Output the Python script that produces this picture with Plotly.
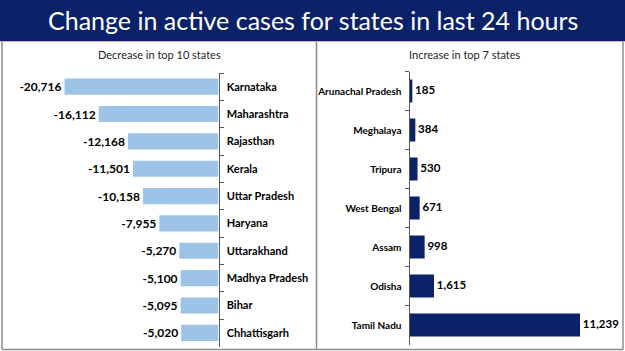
import plotly.graph_objects as go

W, H = 625, 351

title = "Change in active cases for states in last 24 hours"
left_title = "Decrease in top 10 states"
right_title = "Increase in top 7 states"

dec_states = ["Karnataka", "Maharashtra", "Rajasthan", "Kerala", "Uttar Pradesh",
              "Haryana", "Uttarakhand", "Madhya Pradesh", "Bihar", "Chhattisgarh"]
dec_values = [-20716, -16112, -12168, -11501, -10158, -7955, -5270, -5100, -5095, -5020]

inc_states = ["Arunachal Pradesh", "Meghalaya", "Tripura", "West Bengal", "Assam",
              "Odisha", "Tamil Nadu"]
inc_values = [185, 384, 530, 671, 998, 1615, 11239]

NAVY = "#0b2268"
LIGHT = "#9dc3e6"
FONT = "Lato"


def px_x(p):
    return p / W


def px_y(p):
    return 1 - p / H


fig = go.Figure()

fig.add_trace(go.Bar(
    y=dec_states, x=dec_values, orientation="h",
    marker=dict(color=LIGHT, line=dict(width=0)),
    text=[f"{v:,}" for v in dec_values], textposition="outside",
    textfont=dict(family=FONT, size=12, color="#000000", weight="bold"),
    constraintext="none", cliponaxis=False,
    xaxis="x", yaxis="y", showlegend=False, hoverinfo="skip",
))

fig.add_trace(go.Bar(
    y=inc_states, x=inc_values, orientation="h",
    marker=dict(color=NAVY, line=dict(width=0)),
    xaxis="x2", yaxis="y2", showlegend=False, hoverinfo="skip",
))

fig.add_trace(go.Scatter(
    y=inc_states, x=inc_values, mode="text",
    text=["\u00a0" + f"{v:,}" for v in inc_values], textposition="middle right",
    textfont=dict(family=FONT, size=11.5, color="#000000", weight="bold"),
    cliponaxis=False,
    xaxis="x2", yaxis="y2", showlegend=False, hoverinfo="skip",
))

# left panel: 0 at px 218, 0.00743 px per unit
l_left, l_right = 5, 218.5
l_scale = 154.0 / 20716
fig.update_layout(
    xaxis=dict(domain=[px_x(l_left), px_x(l_right)],
               range=[-(l_right - l_left) / l_scale, 0],
               visible=False, fixedrange=True),
    yaxis=dict(domain=[px_y(346.5), px_y(73)], anchor="x", side="right",
               type="category", categoryorder="array", categoryarray=dec_states,
               autorange="reversed", showline=True, linecolor="#595959", linewidth=1,
               ticks="outside", ticklen=4, tickcolor="#595959", tickson="boundaries",
               ticklabelstandoff=5, showgrid=False, zeroline=False,
               tickfont=dict(family=FONT, size=11, color="#000000", weight="bold")),
)

r_left, r_right = 409.5, 625
r_scale = 170.5 / 11239
fig.update_layout(
    xaxis2=dict(domain=[px_x(r_left), px_x(r_right)],
                range=[0, (r_right - r_left) / r_scale],
                visible=False, fixedrange=True),
    yaxis2=dict(domain=[px_y(344.5), px_y(71.5)], anchor="x2", side="left",
                type="category", categoryorder="array", categoryarray=inc_states,
                autorange="reversed", showline=True, linecolor="#595959", linewidth=1,
                ticks="outside", ticklen=4, tickcolor="#595959", tickson="boundaries",
                ticklabelstandoff=5, showgrid=False, zeroline=False,
                tickfont=dict(family=FONT, size=10, color="#000000", weight="bold")),
)

shapes = [
    # title band
    dict(type="rect", xref="paper", yref="paper", x0=0, x1=1, y0=px_y(41), y1=1,
         fillcolor=NAVY, line=dict(width=0), layer="below"),
    dict(type="line", xref="paper", yref="paper", x0=0, x1=1, y0=px_y(41.5), y1=px_y(41.5),
         line=dict(color="#c8b48a", width=1)),
    # panel borders
    dict(type="line", xref="paper", yref="paper", x0=px_x(2), x1=px_x(2), y0=px_y(349.5), y1=px_y(42),
         line=dict(color="#8c8c8c", width=1.5)),
    dict(type="line", xref="paper", yref="paper", x0=px_x(623), x1=px_x(623), y0=px_y(349.5), y1=px_y(42),
         line=dict(color="#8c8c8c", width=1.5)),
    dict(type="line", xref="paper", yref="paper", x0=px_x(2), x1=px_x(623), y0=px_y(349.5), y1=px_y(349.5),
         line=dict(color="#8c8c8c", width=1.5)),
    dict(type="line", xref="paper", yref="paper", x0=px_x(316.5), x1=px_x(316.5), y0=px_y(349.5), y1=px_y(42),
         line=dict(color="#8c8c8c", width=1.5)),
]

annotations = [
    dict(text=title, xref="paper", yref="paper", x=0.5, y=px_y(20), showarrow=False,
         xanchor="center", yanchor="middle",
         font=dict(family=FONT, size=25, color="#ffffff")),
    dict(text=left_title, xref="paper", yref="paper", x=px_x(159), y=px_y(54), showarrow=False,
         xanchor="center", yanchor="middle",
         font=dict(family=FONT, size=11, color="#262626")),
    dict(text=right_title, xref="paper", yref="paper", x=px_x(465), y=px_y(54), showarrow=False,
         xanchor="center", yanchor="middle",
         font=dict(family=FONT, size=11, color="#262626")),
]

fig.update_layout(
    width=W, height=H, margin=dict(l=0, r=0, t=0, b=0),
    paper_bgcolor="#ffffff", plot_bgcolor="rgba(0,0,0,0)",
    bargap=0.41, shapes=shapes, annotations=annotations,
    font=dict(family=FONT),
)

fig.write_html("out.html", config={"displayModeBar": False})
